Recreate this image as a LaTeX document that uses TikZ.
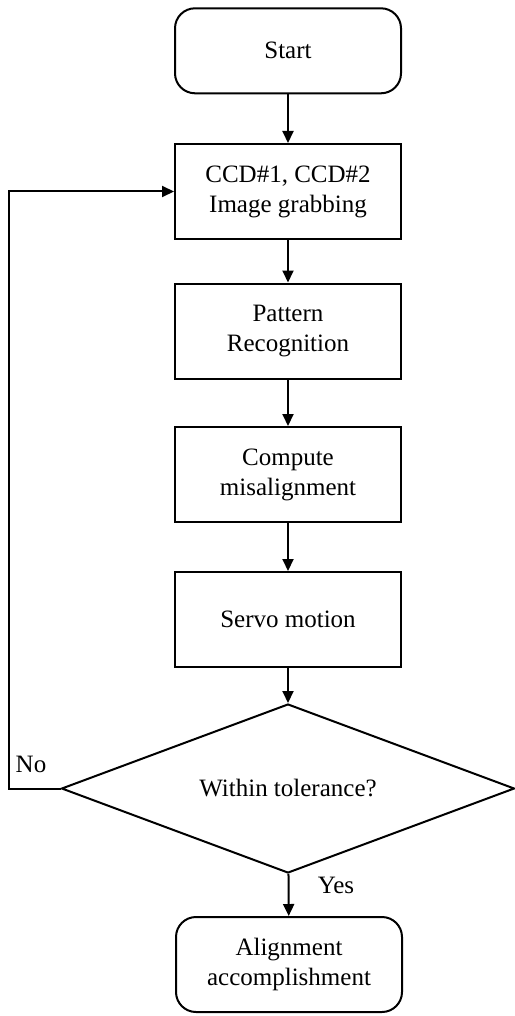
\documentclass[tikz,border=0pt]{standalone}
\usepackage{fontspec}
\setmainfont{Liberation Serif}
\usetikzlibrary{shapes.geometric,arrows.meta}
\begin{document}
\begin{tikzpicture}[x=1pt,y=-1pt,
  every node/.style={font=\fontsize{25}{30}\selectfont, align=center},
  box/.style={draw, line width=2pt, minimum width=226pt, minimum height=95pt, inner sep=0pt},
  term/.style={box, rounded corners=20pt},
  decision/.style={draw, line width=2pt, shape=diamond, minimum width=453pt, minimum height=169pt, inner sep=0pt, aspect=2.68},
  arr/.style={line width=2pt, -{Triangle[length=12pt,width=11pt]}},
  lbl/.style={font=\fontsize{25}{30}\selectfont}
]
\useasboundingbox (0,0) rectangle (514,1016);
\node[term, minimum height=85pt] (start) at (288,50.8) {Start};
\node[box] (b1) at (288,191.5) {CCD\#1, CCD\#2\\Image grabbing};
\node[box] (b2) at (288,331) {Pattern\\Recognition};
\node[box] (b3) at (288,474.5) {Compute\\misalignment};
\node[box] (b4) at (288,619.5) {Servo motion};
\node[decision] (dec) at (288,788.5) {Within tolerance?};
\node[term] (end) at (289,964.5) {Alignment\\accomplishment};
\coordinate (lp) at (8.5,788.5);
\draw[arr] (start) -- (b1);
\draw[arr] (b1) -- (b2);
\draw[arr] (b2) -- (b3);
\draw[arr] (b3) -- (b4);
\draw[arr] (b4) -- (dec);
\draw[arr] (dec) -- (end);
\draw[arr] (dec.west) -- (lp) |- (b1.west);
\node[lbl] (no) at (31,764) {No};
\node[lbl] (yes) at (336,885) {Yes};
\end{tikzpicture}
\end{document}
